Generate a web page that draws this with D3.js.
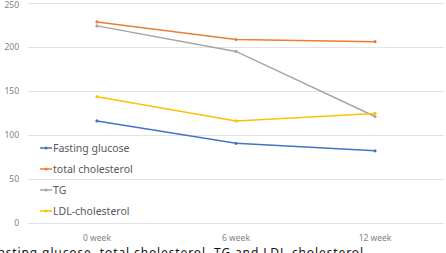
<!DOCTYPE html>
<html><head><meta charset="utf-8">
<script src="https://cdn.jsdelivr.net/npm/d3@7"></script>
<style>body{margin:0;background:#fff;overflow:hidden}svg{display:block}</style>
</head><body><svg id="c" width="446" height="253"></svg>
<script>
const categories = ["0 week", "6 week", "12 week"];
const seriesNames = ["Fasting glucose", "total cholesterol", "TG", "LDL-cholesterol"];
const fastingGlucose = [116, 90.5, 82];
const totalCholesterol = [228.5, 208.5, 206];
const tg = [224, 195, 121];
const ldl = [143.5, 116, 124.5];
const yTicks = [0, 50, 100, 150, 200, 250];
const colors = ["#4472C4", "#ED7D31", "#A5A5A5", "#FFC000"];
const caption = "Fasting glucose, total cholesterol, TG and LDL-cholesterol";

const series = [fastingGlucose, totalCholesterol, tg, ldl];
const svg = d3.select("#c");
const font = "'Noto Sans', 'Open Sans', sans-serif";
const x = d3.scalePoint().domain(categories).range([97, 375]);
const y = d3.scaleLinear().domain([0, 250]).range([223, 3]);

// gridlines
svg.append("g").selectAll("line").data(yTicks).join("line")
  .attr("x1", 28).attr("x2", 444)
  .attr("y1", d => y(d) + 0.5).attr("y2", d => y(d) + 0.5)
  .attr("stroke", "#e3e3e3").attr("stroke-width", 1);

// y labels
svg.append("g").selectAll("text").data(yTicks).join("text")
  .attr("x", 19).attr("y", d => Math.max(y(d), 5.5)).attr("dy", "0.35em")
  .attr("text-anchor", "end").attr("font-family", font)
  .attr("font-size", 8.5).attr("fill", "#7f7f7f").text(d => d);

// x labels
svg.append("g").selectAll("text").data(categories).join("text")
  .attr("x", d => x(d)).attr("y", 238).attr("dy", "0.35em")
  .attr("text-anchor", "middle").attr("font-family", font)
  .attr("font-size", 8.5).attr("fill", "#7f7f7f").text(d => d);

const line = d3.line().x((d, i) => x(categories[i])).y(d => y(d));
series.forEach((s, k) => {
  const g = svg.append("g");
  g.append("path").datum(s).attr("d", line).attr("fill", "none")
    .attr("stroke", colors[k]).attr("stroke-width", 1.5);
  g.selectAll("circle").data(s).join("circle")
    .attr("cx", (d, i) => x(categories[i])).attr("cy", d => y(d))
    .attr("r", 1.6).attr("fill", colors[k]);
});

// legend
const leg = svg.append("g");
seriesNames.forEach((n, k) => {
  const ly = 148 + k * 21;
  leg.append("line").attr("x1", 40).attr("x2", 52).attr("y1", ly).attr("y2", ly)
    .attr("stroke", colors[k]).attr("stroke-width", 1.5);
  leg.append("circle").attr("cx", 46).attr("cy", ly).attr("r", 1.5).attr("fill", colors[k]);
  leg.append("text").attr("x", 53).attr("y", ly).attr("dy", "0.35em")
    .attr("font-family", font).attr("font-size", 10.5).attr("fill", "#595959").text(n);
});

// caption (cut off at bottom, as in the reference)
svg.append("text").attr("x", -9).attr("y", 257)
  .attr("font-family", font).attr("font-size", 12).attr("fill", "#111")
  .attr("textLength", 372).attr("lengthAdjust", "spacing").text(caption);
</script></body></html>
